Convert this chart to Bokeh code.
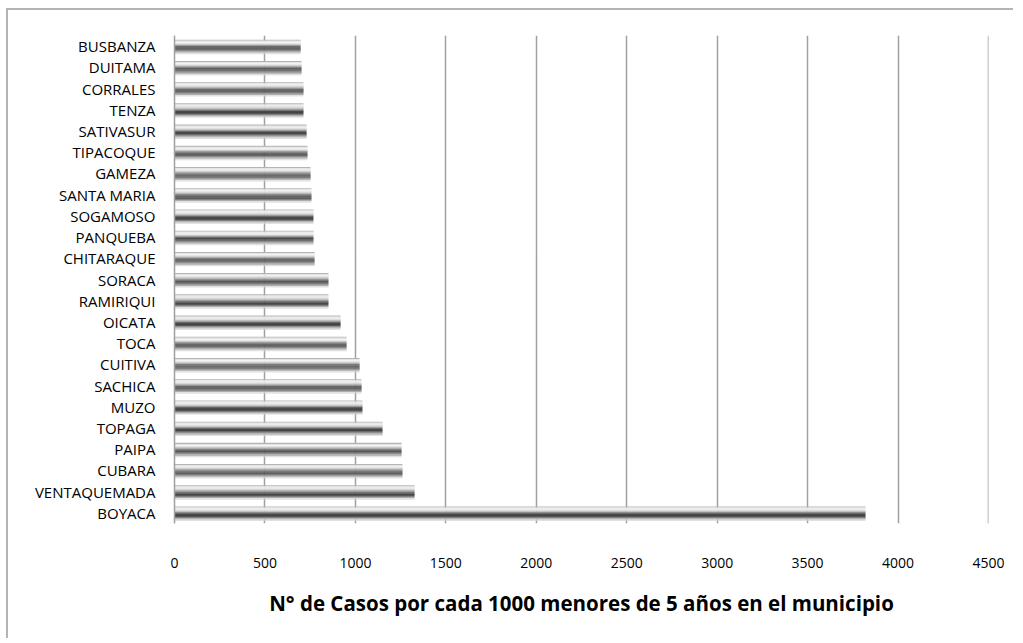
from bokeh.plotting import figure
from bokeh.models import FactorRange, Span
from bokeh.transform import dodge
from bokeh.embed import file_html
from bokeh.resources import INLINE

municipios = ["BUSBANZA", "DUITAMA", "CORRALES", "TENZA", "SATIVASUR", "TIPACOQUE",
              "GAMEZA", "SANTA MARIA", "SOGAMOSO", "PANQUEBA", "CHITARAQUE", "SORACA",
              "RAMIRIQUI", "OICATA", "TOCA", "CUITIVA", "SACHICA", "MUZO", "TOPAGA",
              "PAIPA", "CUBARA", "VENTAQUEMADA", "BOYACA"]
casos = [697, 702, 713, 713, 730, 735, 752, 757, 768, 768, 774, 851,
         851, 918, 951, 1023, 1034, 1039, 1150, 1255, 1260, 1327, 3820]
x_ticks = [0, 500, 1000, 1500, 2000, 2500, 3000, 3500, 4000, 4500]
titulo_x = "N° de Casos por cada 1000 menores de 5 años en el municipio"

W, H = 1007, 630
factors = list(reversed(municipios))
p = figure(width=W, height=H, y_range=FactorRange(*factors, range_padding=0),
           x_range=(x_ticks[0], x_ticks[-1]), output_backend="svg", toolbar_location=None,
           min_border_left=166, min_border_right=27, min_border_top=25, min_border_bottom=117)
p.styles = {"border-top": "2px solid #b4b4b4", "border-left": "2px solid #b4b4b4",
            "margin-left": "6px", "margin-top": "8px"}

src = dict(m=municipios, v=casos)
bh = 0.6
# shadow
p.hbar(y=dodge("m", -0.08, range=p.y_range), right="v", left=0, height=bh,
       source=src, fill_color="#d4d4d4", line_color=None, fill_alpha=0.7)
strips = ["#b4b4b4", "#e4e4e4", "#f2f2f2", "#e6e6e6", "#c8c8c8", "#9c9c9c",
          "#6a6a6a", "#4a4a4a", "#444444", "#555555", "#808080", "#acacac"]
n = len(strips)
for i, c in enumerate(strips):
    off = bh / 2 - (i + 0.5) * bh / n
    p.hbar(y=dodge("m", off, range=p.y_range), right="v", left=0, height=bh / n * 1.05,
           source=src, fill_color=c, line_color=None)

p.xaxis.ticker = x_ticks
p.xaxis.axis_line_color = None
p.xaxis.major_tick_line_color = None
p.xaxis.minor_tick_line_color = None
p.xaxis.major_label_standoff = 28
p.xaxis.major_label_text_font = "Open Sans"
p.xaxis.major_label_text_font_size = "14px"
p.xaxis.major_label_text_color = "#000000"
p.xaxis.axis_label = titulo_x
p.xaxis.axis_label_standoff = 18
p.xaxis.axis_label_text_font = "Open Sans"
p.xaxis.axis_label_text_font_style = "bold"
p.xaxis.axis_label_text_font_size = "20.5px"
p.xaxis.axis_label_text_color = "#000000"

p.yaxis.axis_line_color = "#a0a0a0"
p.yaxis.axis_line_width = 1.5
p.yaxis.major_tick_line_color = None
p.yaxis.minor_tick_line_color = None
p.yaxis.major_label_standoff = 13
p.yaxis.major_label_text_font = "Open Sans"
p.yaxis.major_label_text_font_size = "15px"
p.yaxis.major_label_text_color = "#000000"

p.xgrid.ticker = x_ticks
p.xgrid.grid_line_color = "#a0a0a0"
p.xgrid.grid_line_width = 1.5
p.ygrid.grid_line_color = None
p.outline_line_color = None
p.add_layout(Span(location=x_ticks[-1], dimension="height", line_color="#a0a0a0", line_width=1.5))

open("out.html", "w").write(file_html(p, INLINE))
